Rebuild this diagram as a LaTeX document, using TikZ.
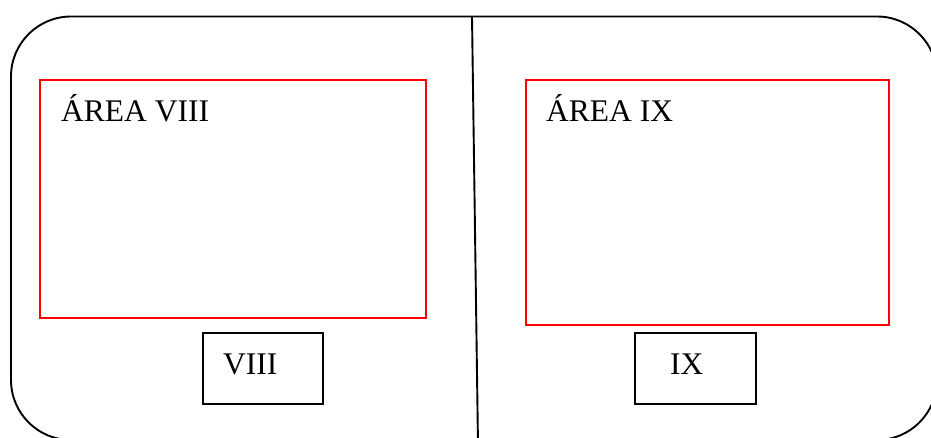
\documentclass[tikz,border=0pt]{standalone}
\usepackage{fontspec}
\setmainfont{Liberation Serif}
\begin{document}
\begin{tikzpicture}[x=1pt,y=-1pt,
  frame/.style={draw=black,line width=1.9pt},
  areabox/.style={draw=red,line width=1.6pt},
  tagbox/.style={draw=black,line width=1.9pt},
  label/.style={anchor=base west,inner sep=0pt,font=\fontsize{31.5}{38}\selectfont}]
\useasboundingbox (0,0) rectangle (931,437);
\clip (0,0) rectangle (931,437);
% outer rounded frame, running past the right and bottom edges
\draw[frame,rounded corners=60pt] (11,16.5) rectangle (937,440);
% divider between the two halves
\coordinate (dtop) at (472,16.5);
\coordinate (dbot) at (478,445);
\draw[frame] (dtop) -- (dbot);
% area boxes
\draw[areabox] (40,80) rectangle (426,318);
\draw[areabox] (526,80) rectangle (889,325);
\node[label] (a8) at (61,121) {ÁREA VIII};
\node[label] (a9) at (546,121) {ÁREA IX};
% small tag boxes
\draw[tagbox] (203,333) rectangle (323,404);
\draw[tagbox] (635,333) rectangle (756,404);
\node[label] (t8) at (223,374) {VIII};
\node[label] (t9) at (670,374) {IX};
\end{tikzpicture}
\end{document}
